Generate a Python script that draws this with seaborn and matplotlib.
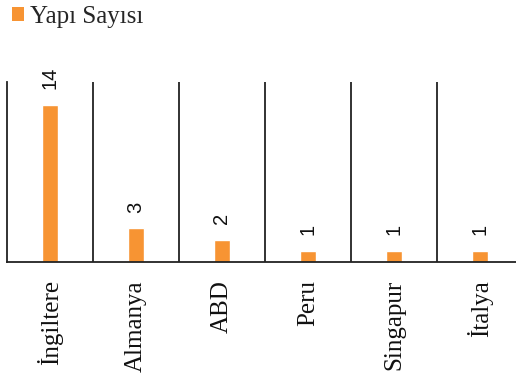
import matplotlib
matplotlib.use("Agg")
import matplotlib.pyplot as plt
import seaborn as sns
import pandas as pd
import numpy as np
from matplotlib.patches import Patch

countries = ["İngiltere", "Almanya", "ABD", "Peru", "Singapur", "İtalya"]
counts = [14, 3, 2, 1, 1, 1]
series_name = "Yapı Sayısı"
bar_color = "#F79433"

sns.set_theme(style="white")
plt.rcParams["font.family"] = ["Liberation Serif", "DejaVu Serif"]

df = pd.DataFrame({"Ülke": countries, series_name: counts})

fig = plt.figure(figsize=(5.16, 3.76), dpi=100)
ax = fig.add_axes([7 / 516, (376 - 262) / 376, 516 / 516, 180 / 376])

sns.barplot(data=df, x="Ülke", y=series_name, color=bar_color, width=0.19,
            saturation=1, ax=ax)
ax.set_ylim(0, 16)
ax.set_xlim(-0.5, len(countries) - 0.5)

for c in ax.containers:
    ax.bar_label(c, rotation=90, padding=11, fontsize=14.5,
                 family="Liberation Sans", color="#111111")

# category separators
ax.set_xticks(np.arange(len(countries)) + 0.5, minor=True)
ax.grid(True, which="minor", axis="x", color="#222222", linewidth=1.3)
ax.grid(False, which="major")

ax.set_yticks([])
ax.set_xlabel("")
ax.set_ylabel("")
ax.tick_params(axis="x", which="both", length=0, pad=13, labelsize=18,
               labelcolor="#111111")
for lbl in ax.get_xticklabels():
    lbl.set_rotation(90)
for s in ["top", "right"]:
    ax.spines[s].set_visible(False)
for s in ["left", "bottom"]:
    ax.spines[s].set_visible(True)
    ax.spines[s].set_color("#222222")
    ax.spines[s].set_linewidth(1.3)

handle = Patch(facecolor=bar_color, edgecolor="none")
fig.legend(handles=[handle], labels=[series_name], loc="upper left",
           bbox_to_anchor=(-0.006, 1.025), frameon=False, fontsize=18,
           handlelength=0.5, handleheight=0.5, handletextpad=0.22,
           borderaxespad=0.2)

fig.savefig("out.png", dpi=100)
